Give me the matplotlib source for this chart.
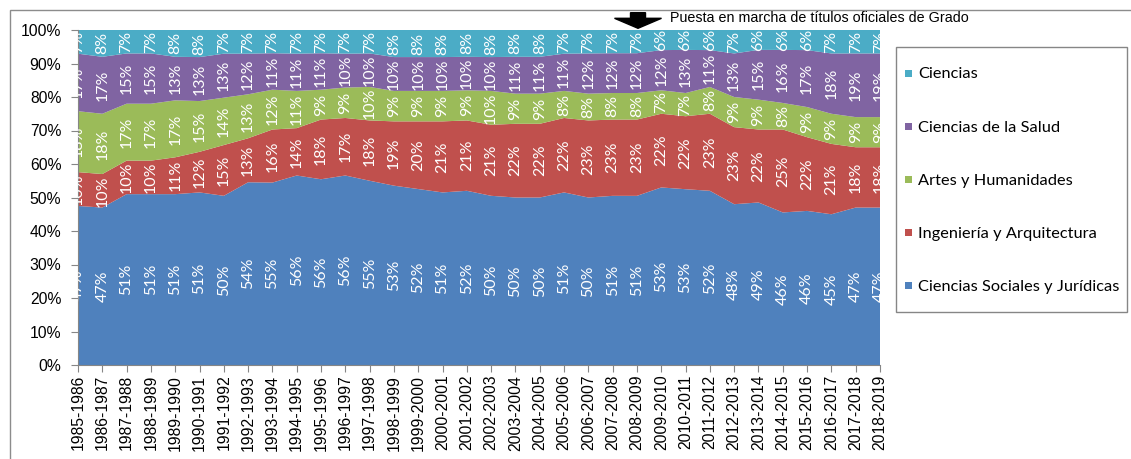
import matplotlib
matplotlib.use("Agg")
import matplotlib.pyplot as plt
import numpy as np
from matplotlib.patches import Rectangle, FancyArrow

cursos = ["1985-1986", "1986-1987", "1987-1988", "1988-1989", "1989-1990",
          "1990-1991", "1991-1992", "1992-1993", "1993-1994", "1994-1995",
          "1995-1996", "1996-1997", "1997-1998", "1998-1999", "1999-2000",
          "2000-2001", "2001-2002", "2002-2003", "2003-2004", "2004-2005",
          "2005-2006", "2006-2007", "2007-2008", "2008-2009", "2009-2010",
          "2010-2011", "2011-2012", "2012-2013", "2013-2014", "2014-2015",
          "2015-2016", "2016-2017", "2017-2018", "2018-2019"]

# % de estudiantes por rama de conocimiento
sociales = [47, 47, 51, 51, 51, 51, 50, 54, 55, 56, 56, 56, 55, 53, 52, 51, 52,
            50, 50, 50, 51, 50, 51, 51, 53, 53, 52, 48, 49, 46, 46, 45, 47, 47]
ingenieria = [10, 10, 10, 10, 11, 12, 15, 13, 16, 14, 18, 17, 18, 19, 20, 21, 21,
              21, 22, 22, 22, 23, 23, 23, 22, 22, 23, 23, 22, 25, 22, 21, 18, 18]
artes = [18, 18, 17, 17, 17, 15, 14, 13, 12, 11, 9, 9, 10, 9, 9, 9, 9,
         10, 9, 9, 8, 8, 8, 8, 7, 7, 8, 9, 9, 8, 9, 9, 9, 9]
salud = [17, 17, 15, 15, 13, 13, 13, 12, 11, 11, 11, 10, 10, 10, 10, 10, 10,
         10, 11, 11, 11, 12, 12, 12, 12, 13, 11, 13, 15, 16, 17, 18, 19, 19]
ciencias = [7, 8, 7, 7, 8, 8, 7, 7, 7, 7, 7, 7, 7, 8, 8, 8, 8,
            8, 8, 8, 7, 7, 7, 7, 6, 6, 6, 7, 6, 6, 6, 7, 7, 7]

ramas = ["Ciencias Sociales y Jurídicas", "Ingeniería y Arquitectura",
         "Artes y Humanidades", "Ciencias de la Salud", "Ciencias"]
colores = ["#4F81BD", "#C0504D", "#9BBB59", "#8064A2", "#4BACC6"]

W, H = 1131, 459
gris = "#868686"

datos = np.array([sociales, ingenieria, artes, salud, ciencias], dtype=float)
pct = datos / datos.sum(axis=0) * 100   # apilado al 100%
x = np.arange(len(cursos))

fig = plt.figure(figsize=(W / 100, H / 100), dpi=100)
ax = fig.add_axes([78 / W, 1 - 365 / H, (880 - 78) / W, (365 - 30) / H])
ax.stackplot(x, pct, colors=colores, labels=ramas, linewidth=0)

# etiquetas de datos en el centro de cada franja
base = np.zeros(len(cursos))
for serie, valores in zip(pct, datos):
    centro = base + serie / 2
    for xi, yi, v in zip(x, centro, valores):
        ax.text(xi, yi, f"{int(v)}%", rotation=90, ha="center", va="center",
                color="white", fontsize=11.5, family="Lato", clip_on=True)
    base = base + serie

ax.set_xlim(0, len(cursos) - 1)
ax.set_ylim(0, 100)
ax.set_yticks(range(0, 101, 10))
ax.set_yticklabels([f"{v}%" for v in range(0, 101, 10)],
                   family="Liberation Sans", fontsize=11.3)
ax.set_xticks(x)
ax.set_xticklabels(cursos, rotation=90, family="Liberation Sans", fontsize=11.3)
ax.tick_params(axis="y", direction="out", length=5, width=0.8, color=gris, pad=7)
ax.tick_params(axis="x", direction="out", length=5, width=0.8, color=gris, pad=2)
for lado in ["top", "right"]:
    ax.spines[lado].set_visible(False)
for lado in ["left", "bottom"]:
    ax.spines[lado].set_color(gris)
    ax.spines[lado].set_linewidth(0.8)

# leyenda dibujada a mano (orden inverso al apilado)
fig.add_artist(Rectangle((896 / W, 1 - 312 / H), 231 / W, 265 / H,
                         transform=fig.transFigure, facecolor="white",
                         edgecolor=gris, linewidth=1))
for i, (nombre, color) in enumerate(zip(ramas[::-1], colores[::-1])):
    yc = 73 + i * 53.2
    fig.add_artist(Rectangle((905 / W, 1 - (yc + 3.5) / H), 7 / W, 7 / H,
                             transform=fig.transFigure, facecolor=color,
                             edgecolor="none"))
    fig.text(918 / W, 1 - yc / H, nombre, family="Lato", fontsize=11.8,
             va="center_baseline", ha="left")

# marco del gráfico
fig.add_artist(Rectangle((10 / W, -0.05), 1.1, 1 - 10 / H + 0.05,
                         transform=fig.transFigure, fill=False,
                         edgecolor="#8c8c8c", linewidth=1))

# flecha y nota sobre el curso 2008-2009
fig.add_artist(FancyArrow(6.38, (H - 12.7) / 100, 0, -15.6 / 100, width=0.15,
                          head_width=0.47, head_length=0.10,
                          length_includes_head=True, color="black",
                          transform=fig.dpi_scale_trans))
fig.text(670 / W, 1 - 18 / H, "Puesta en marcha de títulos oficiales de Grado",
         family="Liberation Sans", fontsize=10.3, va="center", ha="left")

fig.savefig("out.png", dpi=100)
